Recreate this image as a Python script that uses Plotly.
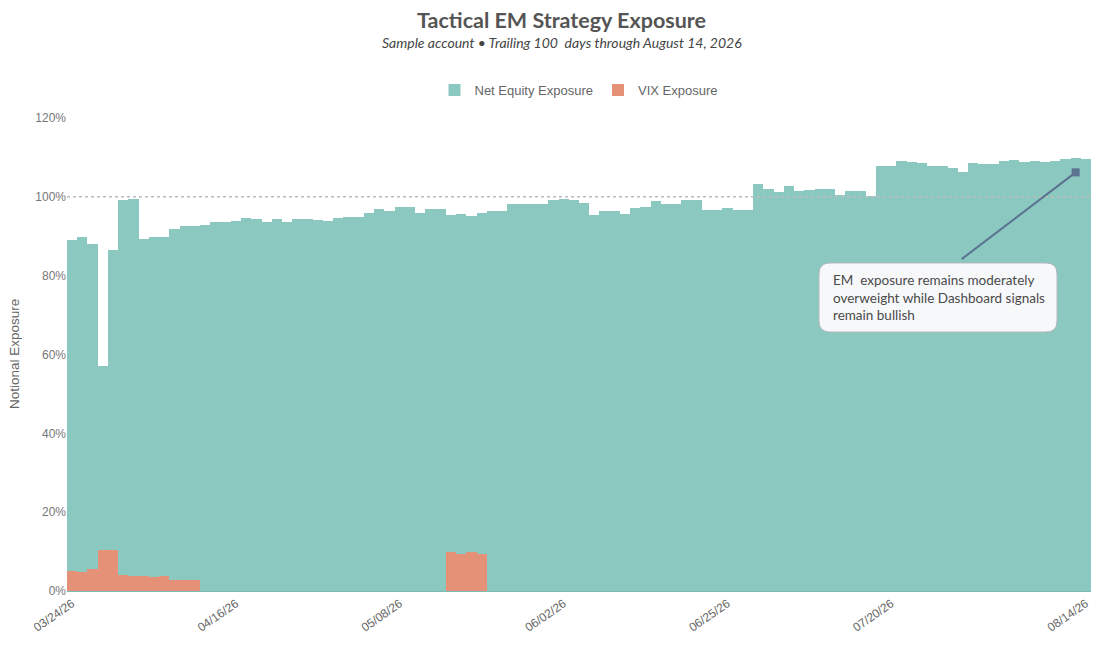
import plotly.graph_objects as go
import pandas as pd

# trading days: weekdays minus US market holidays in the window
holidays = ["2026-04-03", "2026-05-25", "2026-06-19", "2026-07-03"]
days = pd.bdate_range("2026-03-24", "2026-08-14")
days = days[~days.isin(pd.to_datetime(holidays))]
dates = [d.strftime("%m/%d/%y") for d in days]

# net equity exposure (%)
equity = [
    89.0, 89.7, 88.1, 57.1, 86.5, 99.1, 99.4, 89.3, 89.8, 89.8,
    91.8, 92.6, 92.6, 92.9, 93.7, 93.7, 93.8, 94.7, 94.3, 93.7,
    94.5, 93.7, 94.5, 94.5, 94.0, 93.8, 94.7, 94.8, 94.8, 96.0,
    97.0, 96.5, 97.3, 97.5, 95.9, 96.9, 96.9, 95.4, 95.7, 95.1,
    96.0, 96.5, 96.5, 98.1, 98.1, 98.1, 98.1, 99.1, 99.4, 99.1,
    98.5, 95.5, 96.4, 96.4, 95.7, 97.2, 97.5, 98.9, 98.2, 98.2,
    99.1, 99.2, 96.7, 96.7, 97.2, 96.7, 96.7, 103.2, 102.0, 101.3,
    102.8, 101.4, 101.7, 102.1, 102.1, 100.5, 101.4, 101.4, 100.3, 107.9,
    107.9, 109.1, 108.8, 108.6, 107.8, 107.9, 107.4, 106.2, 108.5, 108.3,
    108.3, 109.1, 109.3, 108.8, 109.1, 108.8, 109.1, 109.6, 109.8, 109.6,
]

# VIX hedge exposure (%), zero where no hedge is on
vix = [5.1, 4.7, 5.6, 10.5, 10.3, 4.1, 3.9, 3.9, 3.6, 3.8, 2.9, 2.85, 2.85] \
    + [0] * 24 + [9.8, 9.5, 9.8, 9.3] + [0] * 59

tick_dates = ["03/24/26", "04/16/26", "05/08/26", "06/02/26",
              "06/25/26", "07/20/26", "08/14/26"]
y_ticks = [0, 20, 40, 60, 80, 100, 120]

note_text = ("EM  exposure remains moderately<br>"
             "overweight while Dashboard signals<br>"
             "remain bullish")

# the page body adds an 8px margin, so the figure sits at (8, 8)
OFF = 8
W, H = 1113 - 2 * OFF, 649 - 2 * OFF
ML, MT = 67 - OFF, 118 - OFF
MR = W - (1091 - OFF)
MB = H - (591 - OFF)
PW, PH = W - ML - MR, H - MT - MB


def px2paper(x, y):
    # screen pixel (as in the reference) -> paper coords
    return (x - OFF - ML) / PW, (H - MB - (y - OFF)) / PH


def rounded_box(x0, y0, x1, y1, r):
    pts = [
        ("M", x0 + r, y0), ("L", x1 - r, y0), ("Q", x1, y0, x1, y0 + r),
        ("L", x1, y1 - r), ("Q", x1, y1, x1 - r, y1), ("L", x0 + r, y1),
        ("Q", x0, y1, x0, y1 - r), ("L", x0, y0 + r), ("Q", x0, y0, x0 + r, y0),
    ]
    out = []
    for p in pts:
        cmd, vals = p[0], p[1:]
        coords = []
        for i in range(0, len(vals), 2):
            u, v = px2paper(vals[i], vals[i + 1])
            coords.append(f"{u:.5f},{v:.5f}")
        out.append(cmd + " " + " ".join(coords))
    return " ".join(out) + " Z"


fig = go.Figure()
fig.add_trace(go.Bar(
    x=dates, y=equity, name="Net Equity Exposure",
    marker=dict(color="#8bc8c0", line=dict(width=0)),
))
fig.add_trace(go.Bar(
    x=dates, y=vix, name="VIX Exposure",
    marker=dict(color="#e59178", line=dict(width=0)),
))

fig.add_shape(type="line", xref="paper", x0=0, x1=1, yref="y", y0=100, y1=100,
              line=dict(color="#bdbdbd", width=1.5, dash="dot"), layer="above")

fig.add_shape(type="path", xref="paper", yref="paper",
              path=rounded_box(819, 263, 1057, 332, 11),
              fillcolor="#f7f8fa", line=dict(color="#b4b8be", width=1), layer="above")

# arrow from the note box to the latest reading
fig.add_annotation(x=dates[98], y=106.2, text=" ", showarrow=True,
                   ax=-117, ay=89, arrowhead=7, arrowsize=1, arrowwidth=2,
                   arrowcolor="#5b7190")

nx, ny = px2paper(831, 297.5)
fig.add_annotation(xref="paper", yref="paper", x=nx, y=ny, xanchor="left",
                   yanchor="middle", align="left", showarrow=False,
                   text=note_text, font=dict(family="Lato", size=13.5, color="#4a4a4a"))

sx, sy = px2paper(562, 43)
fig.add_annotation(xref="paper", yref="paper", x=sx, y=sy,
                   xanchor="center", yanchor="middle", showarrow=False,
                   text="<i>Sample account • Trailing 100  days through August 14, 2026</i>",
                   font=dict(family="Lato", size=14, color="#444444"))

tx, ty = px2paper(561, 20)
fig.add_annotation(xref="paper", yref="paper", x=tx, y=ty,
                   xanchor="center", yanchor="middle", showarrow=False,
                   text="<b>Tactical EM Strategy Exposure</b>",
                   font=dict(family="Lato", size=21.5, color="#555555"))

# y axis title placed by hand
yx, yy = px2paper(14, 354)
fig.add_annotation(xref="paper", yref="paper", x=yx, y=yy, textangle=-90,
                   xanchor="center", yanchor="middle", showarrow=False,
                   text="Notional Exposure",
                   font=dict(family="Liberation Sans", size=13.5, color="#666666"))

lx, ly = px2paper(0, 90)
fig.update_layout(
    width=W, height=H,
    margin=dict(l=ML, r=MR, t=MT, b=MB),
    barmode="overlay", bargap=0,
    plot_bgcolor="white", paper_bgcolor="white",
    legend=dict(orientation="h", x=0.5, xanchor="center", y=ly,
                yanchor="middle", font=dict(family="Liberation Sans", size=13, color="#666666"),
                itemwidth=30),
    font=dict(family="Liberation Sans", color="#777777"),
)
fig.update_xaxes(type="category", tickmode="array", tickvals=tick_dates,
                 ticktext=tick_dates, tickangle=-35, showgrid=False,
                 showline=True, linecolor="#7cbcb3", linewidth=1,
                 automargin=False, tickfont=dict(size=12, color="#666666"))
fig.update_yaxes(range=[0, 120], tickmode="array", tickvals=y_ticks,
                 ticktext=[f"{v}%" for v in y_ticks],
                 showgrid=False, zeroline=False, automargin=False,
                 tickfont=dict(size=12, color="#777777"))

fig.write_html("out.html")
